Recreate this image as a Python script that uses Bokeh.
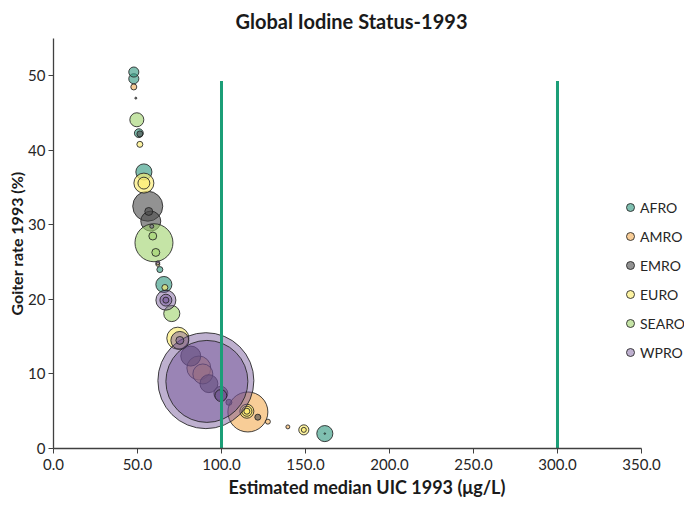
from bokeh.plotting import figure
from bokeh.models import (Range1d, Legend, LegendItem, ColumnDataSource,
                          FixedTicker, NumeralTickFormatter, Title)
from bokeh.embed import file_html
from bokeh.resources import INLINE
import numpy as np

# ---------------- data ----------------
regions = ["AFRO", "AMRO", "EMRO", "EURO", "SEARO", "WPRO"]
region_colors = ["#3a9c86", "#f5b25f", "#4a4a4a", "#fcec70", "#9fd26a", "#6f4f94"]
region_alpha = [0.65, 0.65, 0.6, 0.65, 0.6, 0.45]

afro_uic = [47.8, 47.8, 50.8, 53.8, 63.3, 65.7, 161.5, 161.5]
afro_goiter = [50.5, 49.6, 42.3, 37.1, 24.0, 22.0, 2.0, 2.0]
afro_pop = [13, 13, 10, 33, 4.6, 33, 33, 0.3]

amro_uic = [47.8, 115.7, 127.6, 139.5, 86.5, 88.9]
amro_goiter = [48.5, 4.9, 3.6, 2.9, 10.8, 10.0]
amro_pop = [4.6, 204, 3.2, 2, 73, 51]

emro_uic = [49.0, 51.4, 56.1, 56.7, 57.9, 81.7, 92.5, 99.6, 104.4, 121.6]
emro_goiter = [47.0, 42.2, 32.5, 31.8, 30.5, 12.4, 8.7, 7.4, 6.2, 4.2]
emro_pop = [0.5, 4.6, 115, 8, 51, 51, 41, 25, 4.6, 4.6]

euro_uic = [51.4, 53.8, 53.8, 62.1, 66.3, 74.0, 115.1, 115.1, 115.1, 149.0, 149.0]
euro_goiter = [40.8, 35.6, 35.6, 24.7, 21.6, 14.8, 5.0, 5.0, 5.0, 2.5, 2.5]
euro_pop = [4.6, 51, 18, 2, 4.6, 62, 25, 13, 4.6, 13, 3.2]

searo_uic = [49.6, 59.8, 59.1, 60.9, 70.4]
searo_goiter = [44.1, 27.6, 28.5, 26.3, 18.1]
searo_pop = [25, 184, 8, 8, 33]

wpro_uic = [58.5, 62.1, 66.9, 66.9, 66.9, 75.2, 75.2, 90.7, 91.3, 99.6]
wpro_goiter = [29.8, 24.9, 19.9, 19.9, 19.9, 14.5, 14.5, 9.1, 9.0, 7.1]
wpro_pop = [2, 2, 51, 18, 4.6, 41, 8, 1175, 858, 18]

series = [
    (afro_uic, afro_goiter, afro_pop),
    (amro_uic, amro_goiter, amro_pop),
    (emro_uic, emro_goiter, emro_pop),
    (euro_uic, euro_goiter, euro_pop),
    (searo_uic, searo_goiter, searo_pop),
    (wpro_uic, wpro_goiter, wpro_pop),
]

threshold_uic = [100, 300]
threshold_base = [0, 0]
threshold_top = [49.3, 49.3]

x_ticks = [0, 50, 100, 150, 200, 250, 300, 350]
y_ticks = [0, 10, 20, 30, 40, 50]

FONT = "Lato"

# ---------------- figure ----------------
p = figure(width=684, height=498, output_backend="svg", toolbar_location=None,
           x_range=Range1d(0, 375.6), y_range=Range1d(0, 55),
           min_border_left=53, min_border_right=0, min_border_top=37,
           min_border_bottom=49)
p.outline_line_color = None
p.grid.grid_line_color = None

p.title.text = "Global Iodine Status-1993"
p.title.align = "left"
p.title.offset = 182
p.title.text_font = FONT
p.title.text_font_size = "20px"
p.title.text_font_style = "bold"
p.title.text_color = "#1a1a1a"
p.title.standoff = 12

for ax in (p.xaxis[0], p.yaxis[0]):
    ax.axis_line_color = "#404040"
    ax.axis_line_width = 1.3
    ax.major_tick_line_color = "#404040"
    ax.major_tick_out = 5
    ax.major_tick_in = 0
    ax.minor_tick_line_color = None
    ax.major_label_text_font = FONT
    ax.major_label_text_font_size = "15px"
    ax.major_label_text_color = "#262626"

p.xaxis.ticker = FixedTicker(ticks=x_ticks)
p.xaxis.formatter = NumeralTickFormatter(format="0.0")
p.xaxis.bounds = (0, 350)
p.xaxis.major_label_standoff = 5

p.yaxis.ticker = FixedTicker(ticks=y_ticks)
p.yaxis.formatter = NumeralTickFormatter(format="0")
p.yaxis.major_label_standoff = 3

# axis titles (placed as panel titles so they centre on the 0-350 axis span)
xlab = Title(text="Estimated median UIC 1993 (\u03bcg/L)", align="left", offset=175,
             text_font=FONT, text_font_size="18px", text_font_style="bold",
             text_color="#1a1a1a", standoff=2)
p.add_layout(xlab, "below")
ylab = Title(text="Goiter rate 1993 (%)", align="center",
             text_font=FONT, text_font_size="16px", text_font_style="bold",
             text_color="#1a1a1a", standoff=0)
p.add_layout(ylab, "left")

# bubbles (largest drawn first within each region)
items = []
for name, col, alpha, (ux, gy, pop) in zip(regions, region_colors, region_alpha, series):
    order = np.argsort(pop)[::-1]
    src = ColumnDataSource(dict(
        x=[ux[i] for i in order],
        y=[gy[i] for i in order],
        s=[2.8 * np.sqrt(pop[i]) for i in order],
    ))
    r = p.scatter("x", "y", size="s", source=src, fill_color=col, fill_alpha=alpha,
                  line_color="#222222", line_alpha=0.85, line_width=1)
    items.append(LegendItem(label=name, renderers=[r]))

# threshold lines
p.segment(x0=threshold_uic, y0=threshold_base, x1=threshold_uic, y1=threshold_top,
          line_color="#1b9e77", line_width=3)

legend = Legend(items=items, location=(567, 85), orientation="vertical",
                glyph_width=20, glyph_height=22, label_height=20,
                spacing=7, padding=0, margin=0, label_standoff=0,
                border_line_color=None, background_fill_alpha=0,
                label_text_font=FONT, label_text_font_size="14px",
                label_text_color="#262626")
p.add_layout(legend, "center")

open("out.html", "w").write(file_html(p, INLINE))
